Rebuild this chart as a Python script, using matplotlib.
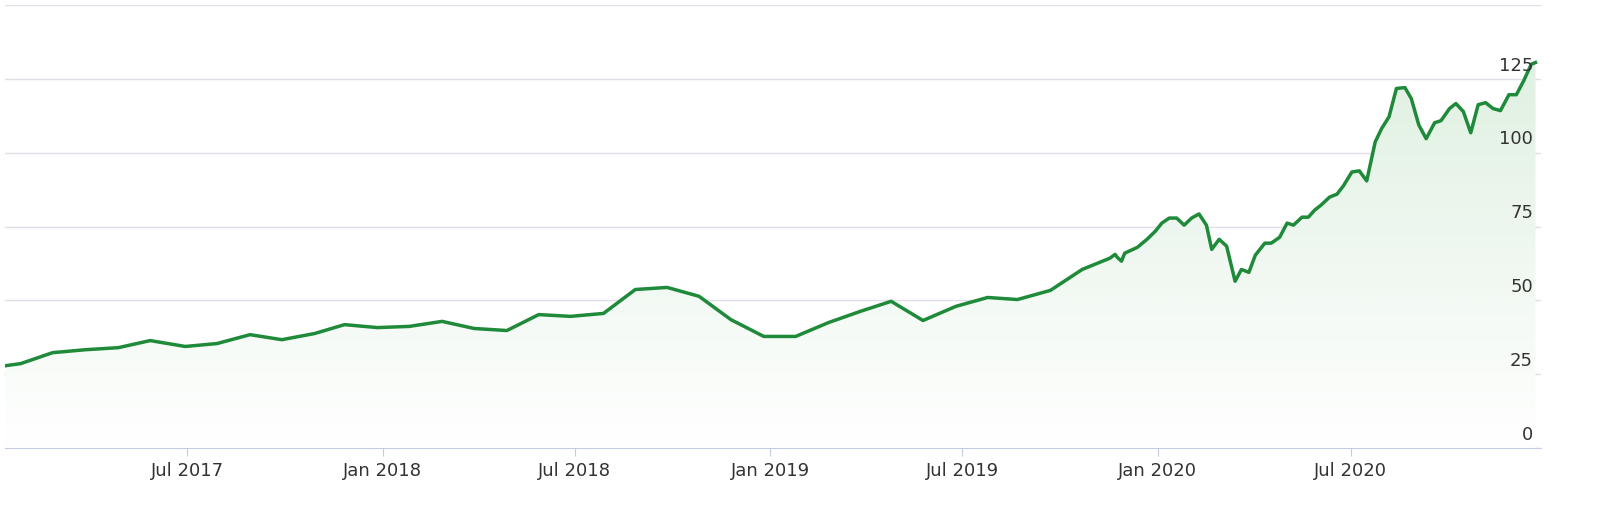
import matplotlib
matplotlib.use("Agg")
import matplotlib.pyplot as plt
import matplotlib.dates as mdates
import numpy as np
import pandas as pd

# days since 2017-01-01
days = [10, 24, 54, 85, 116, 146, 179, 209, 240, 270, 301, 329, 360, 390, 421, 451, 482, 512,
        542, 573, 603, 633, 663, 693, 724, 754, 785, 815, 844, 874, 905, 935, 963, 994, 1024,
        1050, 1055, 1057, 1061, 1064, 1076, 1085, 1093, 1099, 1106, 1113, 1120, 1127, 1134,
        1141, 1146, 1153, 1160, 1168, 1174, 1181, 1187, 1196, 1202, 1210, 1217, 1223, 1231,
        1237, 1243, 1249, 1257, 1264, 1270, 1278, 1285, 1292, 1300, 1306, 1313, 1320, 1328,
        1334, 1341, 1348, 1356, 1362, 1370, 1376, 1383, 1390, 1397, 1404, 1411, 1418, 1426,
        1433, 1440, 1447, 1451]
values = [27.9, 28.6, 32.3, 33.3, 34.0, 36.4, 34.4, 35.4, 38.4, 36.7, 38.8, 41.8, 40.8, 41.2,
          42.9, 40.5, 39.8, 45.2, 44.6, 45.6, 53.7, 54.4, 51.4, 43.5, 37.8, 37.8, 42.5, 46.3,
          49.7, 43.2, 48.0, 51.0, 50.3, 53.4, 60.5, 64.3, 65.6, 64.6, 63.3, 66.0, 68.0, 70.7,
          73.5, 76.2, 77.9, 77.9, 75.5, 77.9, 79.3, 75.5, 67.3, 70.7, 68.4, 56.5, 60.5, 59.5,
          65.3, 69.4, 69.4, 71.4, 76.2, 75.5, 78.2, 78.2, 80.6, 82.3, 85.0, 86.0, 88.8, 93.5,
          93.9, 90.5, 103.7, 108.2, 112.2, 121.8, 122.1, 118.4, 109.5, 104.8, 110.2, 110.9,
          115.0, 116.7, 114.0, 106.8, 116.3, 117.0, 115.0, 114.3, 119.7, 119.7, 124.5, 130.0,
          130.6]
yticks = [0, 25, 50, 75, 100, 125, 150]
xtick_labels = ["Jul 2017", "Jan 2018", "Jul 2018", "Jan 2019", "Jul 2019", "Jan 2020", "Jul 2020"]

dates = pd.Timestamp("2017-01-01") + pd.to_timedelta(days, unit="D")
x = mdates.date2num(dates)

fig = plt.figure(figsize=(16, 5.24), dpi=100)
ax = fig.add_axes([0.003, 0.145, 0.96, 0.845])
green = "#1e8a3a"
x0 = mdates.date2num(pd.Timestamp("2017-01-10"))
x1 = mdates.date2num(pd.Timestamp("2020-12-27"))
ax.set_xlim(x0, x1)
ax.set_ylim(0, 150)

for t in yticks:
    ax.axhline(t, color="#dde0e6", lw=1, zorder=0)

# gradient fill under the line
grad = np.linspace(0, 1, 256).reshape(-1, 1)
cmap = matplotlib.colors.LinearSegmentedColormap.from_list("g", ["#ffffff", "#dff0e1"])
im = ax.imshow(grad, extent=[x0, x1, 0, 135], origin="lower", aspect="auto", cmap=cmap, zorder=1)
poly = ax.fill_between(x, values, 0, color="none")
clip = matplotlib.patches.Polygon(np.column_stack([np.r_[x, x[-1], x[0]], np.r_[values, 0, 0]]),
                                  transform=ax.transData)
im.set_clip_path(clip)
ax.plot(x, values, color=green, lw=2.5, zorder=3)

for t in yticks[:-1]:
    ax.text(0.995, t + 1.5, str(t), transform=ax.get_yaxis_transform(), ha="right", va="bottom",
            fontsize=13, color="#333333")
ax.set_yticks([])

tick_dates = pd.to_datetime(["2017-07-01", "2018-01-01", "2018-07-01", "2019-01-01",
                             "2019-07-01", "2020-01-01", "2020-07-01"])
ax.set_xticks(mdates.date2num(tick_dates))
ax.set_xticklabels(xtick_labels, fontsize=13, color="#333333")
ax.tick_params(axis="x", length=6, color="#c5cbe0", pad=4)
for s in ["top", "left", "right"]:
    ax.spines[s].set_visible(False)
ax.spines["bottom"].set_color("#c5cbe0")

fig.savefig("out.png", dpi=100)
